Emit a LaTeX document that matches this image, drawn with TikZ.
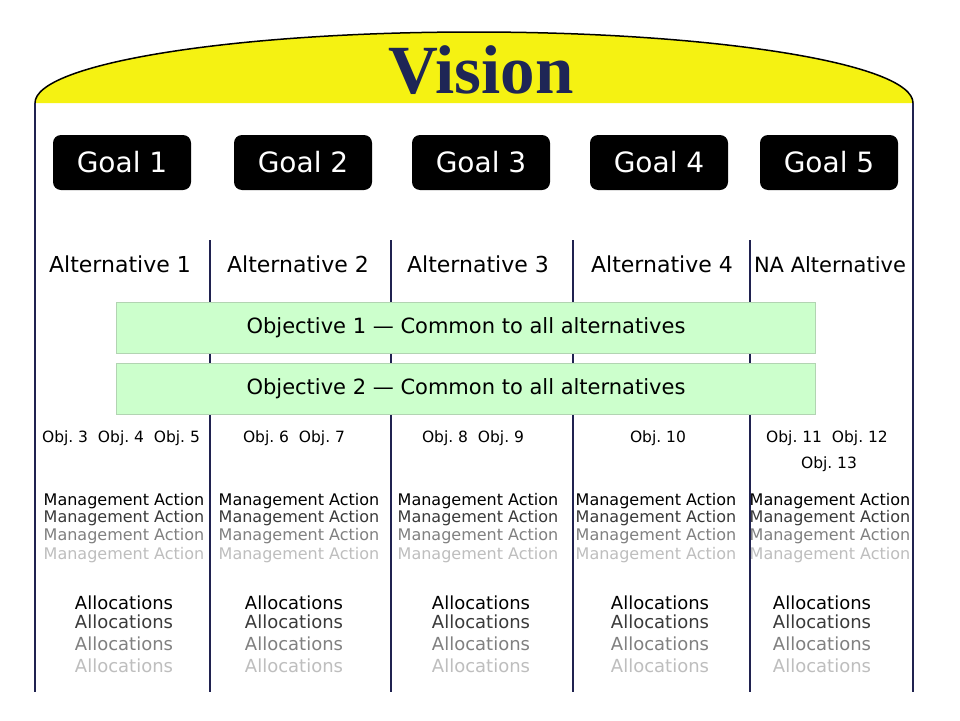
\documentclass[tikz,border=0pt]{standalone}
\usepackage{fontspec}
\setmainfont{DejaVu Sans}
\newfontfamily\visionfont{Liberation Serif}
\definecolor{visionyellow}{RGB}{245,242,18}
\definecolor{visionnavy}{RGB}{30,38,86}
\definecolor{linenavy}{RGB}{32,34,80}
\definecolor{objgreen}{RGB}{204,255,204}
\definecolor{objborder}{RGB}{178,212,178}
\definecolor{rowtwo}{RGB}{58,58,58}
\definecolor{rowthree}{RGB}{128,128,128}
\definecolor{rowfour}{RGB}{190,190,190}

\begin{document}
\frenchspacing
\begin{tikzpicture}[x=1pt, y=-1pt,
    goalbox/.style={fill=black, rounded corners=8pt, minimum width=138pt,
      minimum height=55pt, inner sep=0pt, text=white, font=\fontsize{28}{30}\selectfont},
    altlabel/.style={anchor=base, inner sep=0pt, font=\fontsize{22}{24}\selectfont},
    objbox/.style={fill=objgreen, draw=objborder, line width=1pt, minimum width=699pt,
      minimum height=51pt, inner sep=0pt, font=\fontsize{21}{23}\selectfont},
    objlabel/.style={anchor=base, inner sep=0pt, font=\fontsize{15.5}{17}\selectfont},
    action/.style={anchor=base, inner sep=0pt, font=\fontsize{16}{18}\selectfont},
    alloc/.style={anchor=base, inner sep=0pt, font=\fontsize{18}{20}\selectfont},
    rule/.style={draw=linenavy, line width=1.8pt}]
  \fill[white] (0,0) rectangle (960,720);
  \useasboundingbox (0,0) rectangle (960,720);
  % vision dome
  \draw[fill=visionyellow, line width=1.5pt]
    (35,103) arc[start angle=180, end angle=360, x radius=439, y radius=71];
  \node[anchor=base, inner sep=0pt, text=visionnavy,
    font=\visionfont\bfseries\fontsize{69}{70}\selectfont] (vision) at (481,93) {Vision};
  \draw[rule] (35,103) -- (35,692);
  \draw[rule] (913,103) -- (913,692);
  % goals
  \foreach \i/\x in {1/122, 2/303, 3/481, 4/659, 5/829}
    \node[goalbox] (goal\i) at (\x,162.5) {Goal \i};
  % columns
  \foreach \x in {210, 391, 573, 750}
    \draw[rule] (\x,240) -- (\x,692);
  \foreach \i/\x in {1/120, 2/298, 3/478, 4/662}
    \node[altlabel] (alt\i) at (\x,272) {Alternative \i};
  \node[altlabel, font=\fontsize{21}{23}\selectfont] (alt5) at (830,272) {NA Alternative};
  \node[objbox] (obj1) at (466,327.5) {Objective 1 — Common to all alternatives};
  \node[objbox] (obj2) at (466,388.8) {Objective 2 — Common to all alternatives};
  \node[objlabel] (objs1) at (121,442) {Obj. 3\ \ Obj. 4\ \ Obj. 5};
  \node[objlabel] (objs2) at (294,442) {Obj. 6\ \ Obj. 7};
  \node[objlabel] (objs3) at (473,442) {Obj. 8\ \ Obj. 9};
  \node[objlabel] (objs4) at (658,442) {Obj. 10};
  \node[objlabel] (objs5) at (827,442) {Obj. 11\ \ Obj. 12};
  \node[objlabel] (objs6) at (829,468) {Obj. 13};
  % actions and allocations, fading down each column
  \foreach \i/\ma/\al in {1/124/124, 2/299/294, 3/478/481, 4/656/660, 5/830/822}
    \foreach \r/\y/\yy/\c in {1/505/609/black, 2/522/628/rowtwo, 3/540/650/rowthree, 4/559/672/rowfour} {
      \node[action, text=\c] (ma-\i-\r) at (\ma,\y) {Management Action};
      \node[alloc, text=\c] (al-\i-\r) at (\al,\yy) {Allocations};
    }
\end{tikzpicture}
\end{document}
